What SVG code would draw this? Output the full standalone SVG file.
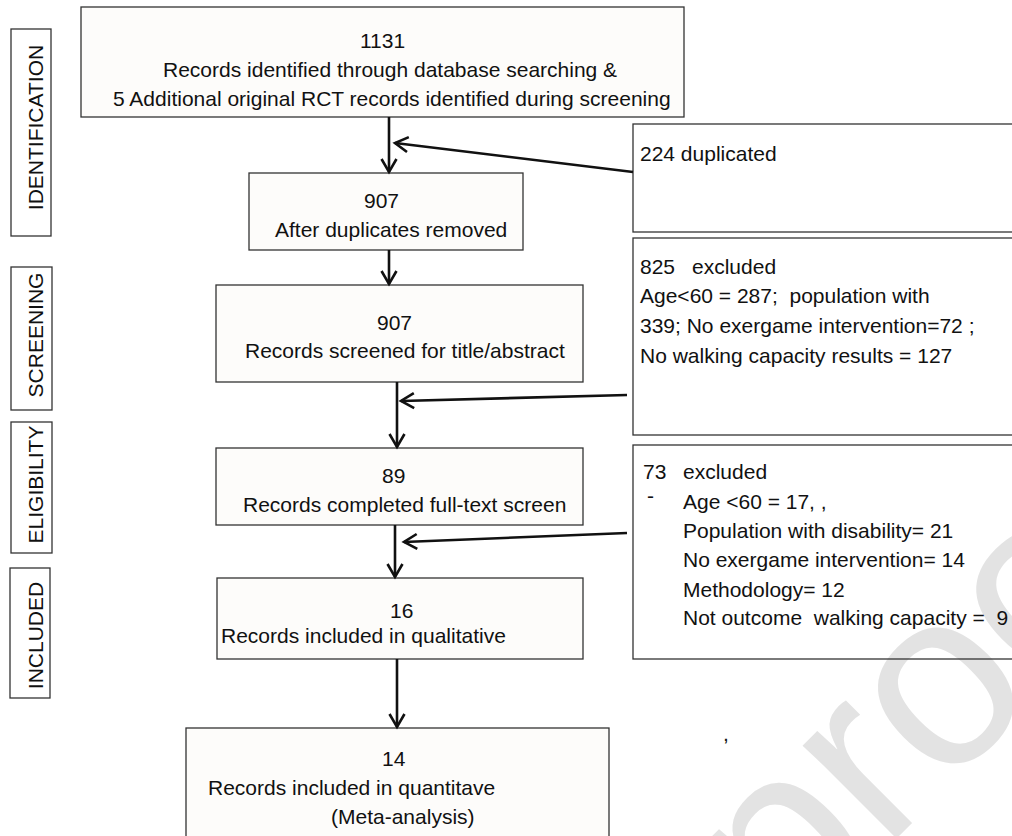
<svg xmlns="http://www.w3.org/2000/svg" width="1012" height="836" viewBox="0 0 1012 836">
<defs>
<style>
.t{font-family:"Liberation Sans",Arial,sans-serif;font-size:21px;fill:#111;white-space:pre}
.box{fill:#fdfcfa;stroke:#333;stroke-width:1.3}
.rbox{fill:none;stroke:#333;stroke-width:1.3}
.lab{fill:#fff;stroke:#333;stroke-width:1.3}
.c{fill:none;stroke:#111;stroke-width:2.6;marker-end:url(#arr)}
.wm{font-family:"Liberation Sans",Arial,sans-serif;font-size:250px;fill:#e3e3e3}
</style>
<marker id="arr" markerUnits="userSpaceOnUse" markerWidth="30" markerHeight="30" viewBox="-20 -15 30 30" refX="0" refY="0" orient="auto" overflow="visible">
<path d="M-13,-7.5 L0,0 L-13,7.5" fill="none" stroke="#111" stroke-width="2.6"/>
</marker>
</defs>
<rect width="1012" height="836" fill="#fff"/>
<text class="wm" transform="translate(452,1283) rotate(-45)">Pre-proof</text>

<g id="stage-identification">
<rect class="lab" x="11" y="29" width="40" height="207"/>
<text class="t" text-anchor="middle" transform="translate(43,127.5) rotate(-90)">IDENTIFICATION</text>
</g>
<g id="stage-screening">
<rect class="lab" x="11" y="267" width="41" height="143"/>
<text class="t" text-anchor="middle" transform="translate(43,335) rotate(-90)">SCREENING</text>
</g>
<g id="stage-eligibility">
<rect class="lab" x="11" y="422" width="41" height="131"/>
<text class="t" text-anchor="middle" transform="translate(43,484.5) rotate(-90)">ELIGIBILITY</text>
</g>
<g id="stage-included">
<rect class="lab" x="10" y="568" width="40" height="130"/>
<text class="t" text-anchor="middle" transform="translate(43,635.5) rotate(-90)">INCLUDED</text>
</g>

<g id="node-identified">
<rect class="box" x="81" y="7" width="603" height="110"/>
<text class="t" x="360" y="48">1131</text>
<text class="t" x="163" y="77">Records identified through database searching &amp;</text>
<text class="t" x="113" y="106">5 Additional original RCT records identified during screening</text>
</g>
<g id="node-dedup">
<rect class="box" x="249" y="173" width="274" height="77"/>
<text class="t" x="364" y="208">907</text>
<text class="t" x="275" y="237">After duplicates removed</text>
</g>
<g id="node-screened">
<rect class="box" x="216" y="285" width="367" height="97"/>
<text class="t" x="377" y="330">907</text>
<text class="t" x="245" y="358">Records screened for title/abstract</text>
</g>
<g id="node-fulltext">
<rect class="box" x="216" y="448" width="367" height="77"/>
<text class="t" x="382" y="483">89</text>
<text class="t" x="243" y="512">Records completed full-text screen</text>
</g>
<g id="node-qualitative">
<rect class="box" x="217" y="578" width="366" height="81"/>
<text class="t" x="390" y="618">16</text>
<text class="t" x="221" y="643">Records included in qualitative</text>
</g>
<g id="node-quantitative">
<rect class="box" x="186" y="728" width="423" height="140"/>
<text class="t" x="382" y="766">14</text>
<text class="t" x="208" y="795">Records included in quantitave</text>
<text class="t" x="331" y="824">(Meta-analysis)</text>
</g>

<g id="node-duplicated">
<rect class="rbox" x="633" y="124" width="400" height="108"/>
<text class="t" x="640" y="161">224 duplicated</text>
</g>
<g id="node-excluded-825">
<rect class="rbox" x="633" y="238" width="400" height="197"/>
<text class="t" x="640" y="274">825<tspan x="692">excluded</tspan></text>
<text class="t" x="640" y="303">Age&lt;60 = 287;  population with</text>
<text class="t" x="640" y="333">339; No exergame intervention=72 ;</text>
<text class="t" x="640" y="363">No walking capacity results = 127</text>
</g>
<g id="node-excluded-73">
<rect class="rbox" x="633" y="445" width="400" height="214"/>
<text class="t" x="643" y="479">73<tspan x="683">excluded</tspan></text>
<text class="t" x="647" y="503">-</text>
<text class="t" x="683" y="509">Age &lt;60 = 17, ,</text>
<text class="t" x="683" y="538">Population with disability= 21</text>
<text class="t" x="683" y="567">No exergame intervention= 14</text>
<text class="t" x="683" y="597">Methodology= 12</text>
<text class="t" x="683" y="625">Not outcome  walking capacity =  9</text>
</g>
<text class="t" x="723" y="741">,</text>

<g id="connectors">
<path class="c" d="M389,117 L389,172"/>
<path class="c" d="M633,172 L395,143"/>
<path class="c" d="M389,250 L389,284"/>
<path class="c" d="M397,382 L397,447"/>
<path class="c" d="M627,395 L401,401"/>
<path class="c" d="M395,525 L395,577"/>
<path class="c" d="M627,533 L404,542"/>
<path class="c" d="M397,659 L397,727"/>
</g>
</svg>
